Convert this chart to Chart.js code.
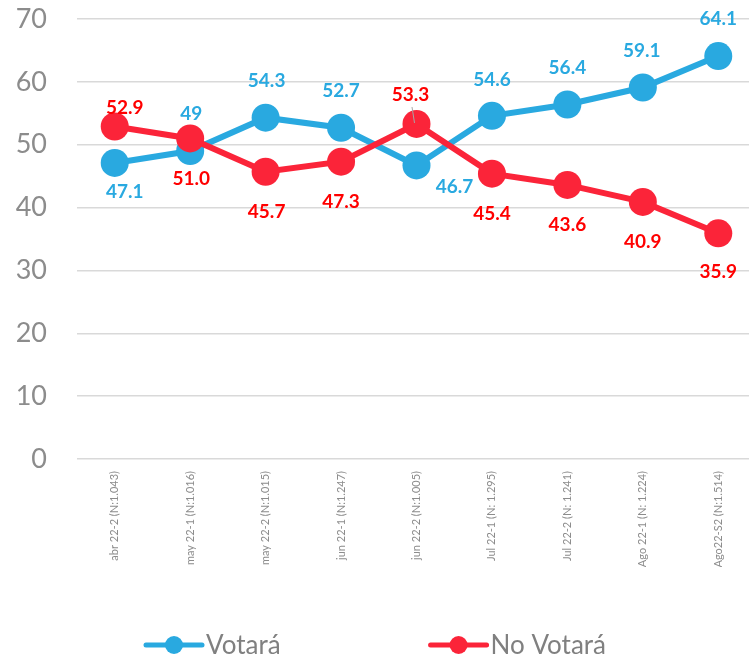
<!DOCTYPE html>
<html>
<head>
<meta charset="utf-8">
<script src="https://cdn.jsdelivr.net/npm/chart.js@4.4.1/dist/chart.umd.min.js"></script>
<style>
  html, body { margin: 0; padding: 0; background: #fff; overflow: hidden; }
  #wrap { width: 770px; height: 656px; }
</style>
</head>
<body>
<div id="wrap"><canvas id="chart" width="770" height="656"></canvas></div>
<script>
// datos
const labels = [
  'abr 22-2 (N:1.043)', 'may 22-1 (N:1.016)', 'may 22-2 (N:1.015)',
  'jun 22-1 (N:1.247)', 'jun 22-2 (N:1.005)', 'Jul 22-1 (N: 1.295)',
  'Jul 22-2 (N: 1.241)', 'Ago 22-1 (N: 1.224)', 'Ago22-S2 (N:1.514)'
];
const votara = [47.1, 49, 54.3, 52.7, 46.7, 54.6, 56.4, 59.1, 64.1];
const noVotara = [52.9, 51.0, 45.7, 47.3, 53.3, 45.4, 43.6, 40.9, 35.9];
const yTicks = [0, 10, 20, 30, 40, 50, 60, 70];

const BLUE = '#29a9e0';
const RED = '#fb2439';
const RED_TEXT = '#ff0000';
const GRAY = '#8c8c8c';

// donde va cada etiqueta respecto al punto (dx, dy)
const blueOffsets = [[10, 29], [1, -37], [1, -37], [0, -37], [38, 21], [0, -36], [0, -37], [-1, -37], [0, -37]];
const redOffsets = [[10, -19], [1, 40], [1, 40], [0, 40], [-6, -29], [0, 40], [0, 40], [0, 40], [0, 39]];

// etiquetas de valor sobre los puntos
const pointLabels = {
  id: 'pointLabels',
  afterDatasetsDraw(chart) {
    const ctx = chart.ctx;
    ctx.save();
    ctx.font = 'bold 19px Lato';
    ctx.textAlign = 'center';
    ctx.textBaseline = 'middle';
    chart.data.datasets.forEach((ds, i) => {
      const meta = chart.getDatasetMeta(i);
      meta.data.forEach((pt, j) => {
        const [dx, dy] = ds.labelOffsets[j];
        if (ds.leader === j) {
          ctx.strokeStyle = '#a6a6a6';
          ctx.lineWidth = 1;
          ctx.beginPath();
          ctx.moveTo(pt.x + dx + 1.5, pt.y + dy + 12);
          ctx.lineTo(pt.x - 2, pt.y - 1);
          ctx.stroke();
        }
        ctx.fillStyle = ds.labelColor;
        ctx.fillText(ds.labelText(ds.data[j]), pt.x + dx, pt.y + dy);
      });
    });
    ctx.restore();
  }
};

// leyenda abajo: linea con circulo + texto
const lineLegend = {
  id: 'lineLegend',
  afterDraw(chart) {
    const ctx = chart.ctx;
    const y = 645;
    let x = 146;
    ctx.save();
    ctx.font = '26px Lato';
    ctx.textBaseline = 'middle';
    chart.data.datasets.forEach(ds => {
      ctx.strokeStyle = ds.borderColor;
      ctx.lineWidth = 5;
      ctx.lineCap = 'round';
      ctx.beginPath();
      ctx.moveTo(x, y);
      ctx.lineTo(x + 56, y);
      ctx.stroke();
      ctx.fillStyle = ds.backgroundColor;
      ctx.beginPath();
      ctx.arc(x + 28, y, 9, 0, Math.PI * 2);
      ctx.fill();
      ctx.fillStyle = '#808080';
      ctx.fillText(ds.label, x + 60, y + 1);
      x += 60 + ctx.measureText(ds.label).width + 150;
    });
    ctx.restore();
  }
};

new Chart(document.getElementById('chart'), {
  type: 'line',
  data: {
    labels: labels,
    datasets: [
      {
        label: 'Votará', data: votara, borderColor: BLUE, backgroundColor: BLUE,
        borderWidth: 6, pointRadius: 14, pointHoverRadius: 14, pointBorderWidth: 0,
        order: 1, labelColor: BLUE, labelOffsets: blueOffsets,
        labelText: v => String(v)
      },
      {
        label: 'No Votará', data: noVotara, borderColor: RED, backgroundColor: RED,
        borderWidth: 6, pointRadius: 14, pointHoverRadius: 14, pointBorderWidth: 0,
        order: 0, labelColor: RED_TEXT, labelOffsets: redOffsets, leader: 4,
        labelText: v => v.toFixed(1)
      }
    ]
  },
  options: {
    responsive: false,
    animation: false,
    layout: { padding: { top: 19, right: 4, bottom: 89, left: 0 } },
    plugins: { legend: { display: false }, tooltip: { enabled: false } },
    scales: {
      x: {
        offset: true,
        grid: { display: false, drawTicks: false },
        border: { display: false },
        ticks: { minRotation: 90, maxRotation: 90, padding: 12, color: GRAY, font: { family: 'Lato', size: 11 } },
        afterFit: s => { s.height = 108; }
      },
      y: {
        min: 0, max: 70,
        afterBuildTicks: s => { s.ticks = yTicks.map(v => ({ value: v })); },
        grid: { color: '#d9d9d9', lineWidth: 1.5, drawTicks: false },
        border: { display: false },
        ticks: { padding: 30, color: GRAY, font: { family: 'Lato', size: 27 } },
        // el padding de los ticks no debe empujar el area hacia abajo
        afterFit: s => { s.width = 77; s.paddingTop = 16; s.paddingBottom = 16; }
      }
    }
  },
  plugins: [pointLabels, lineLegend]
});
</script>
</body>
</html>
